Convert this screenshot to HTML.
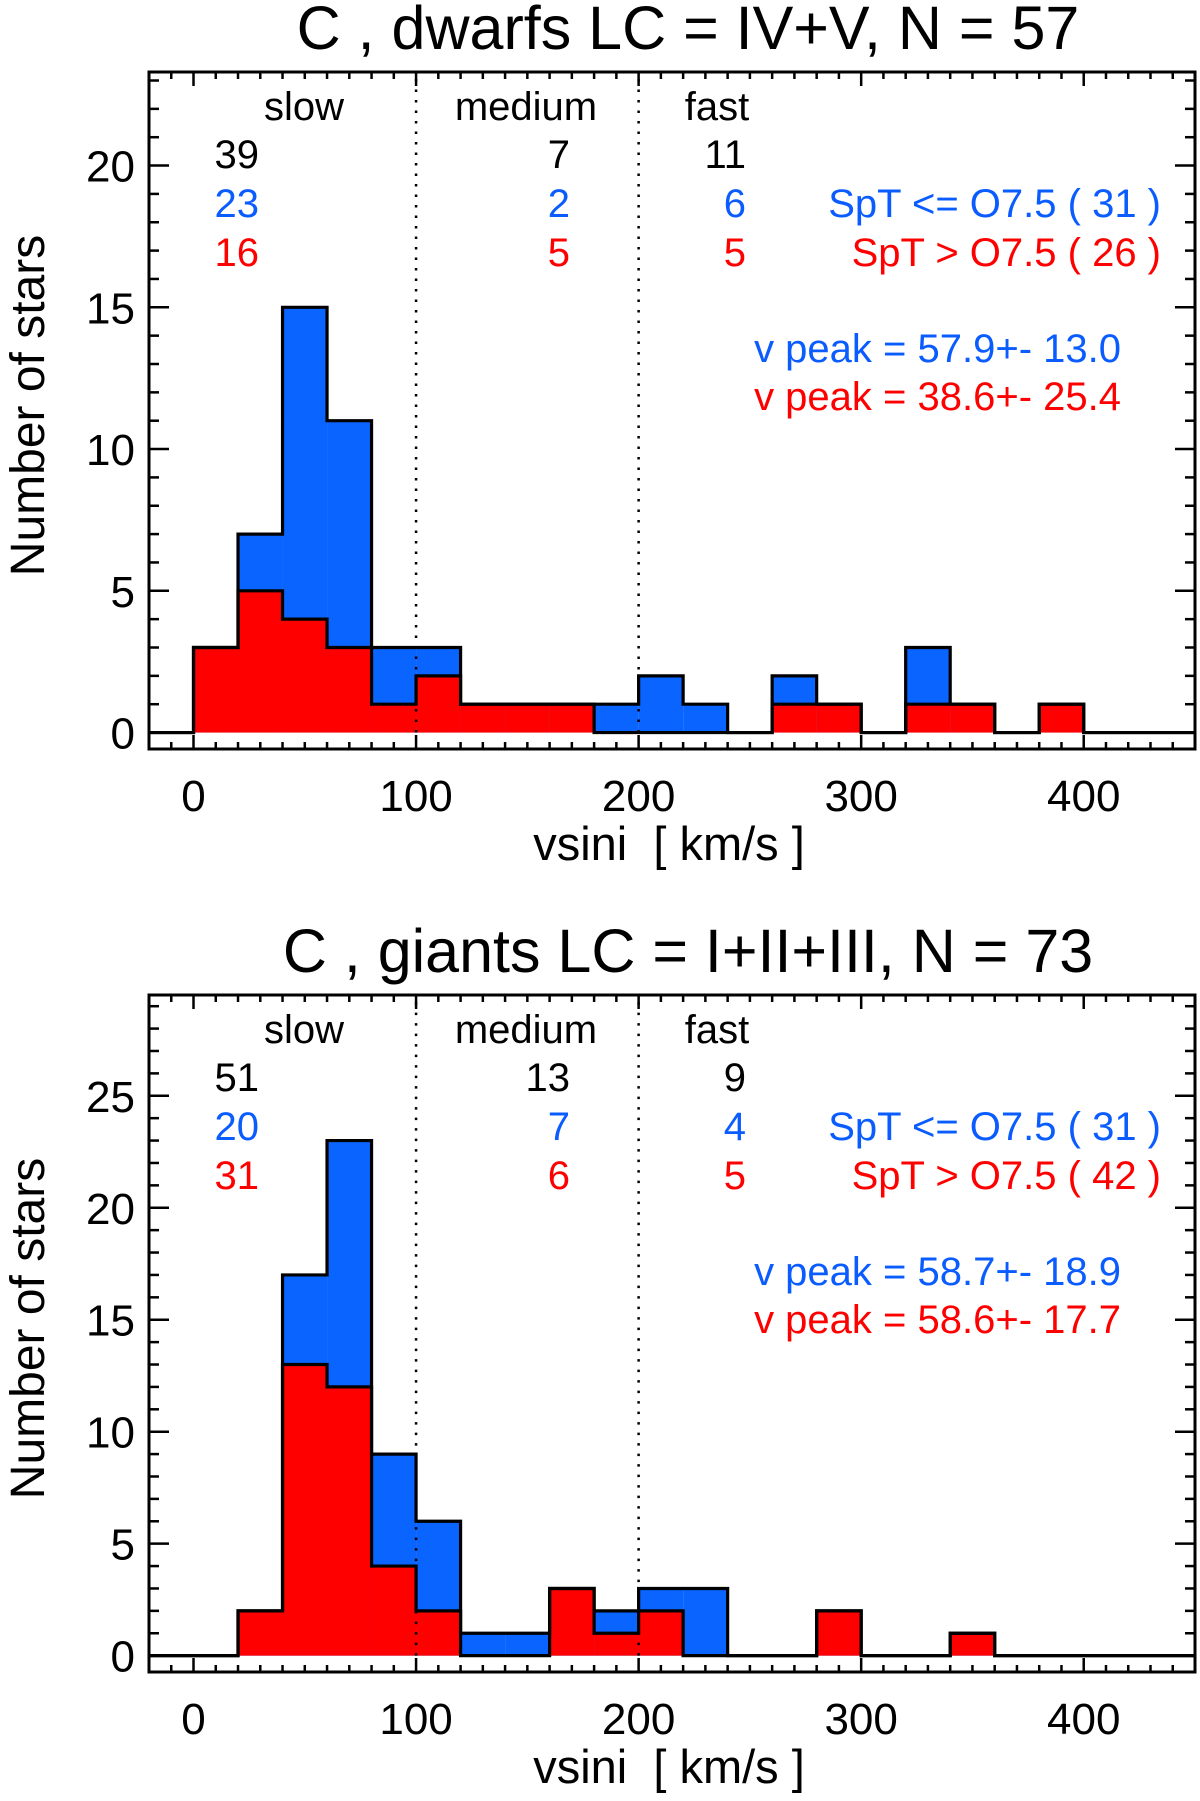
<!DOCTYPE html>
<html><head><meta charset="utf-8"><style>
html,body{margin:0;padding:0;background:#fff;}
svg{display:block;font-family:"Liberation Sans",Arial,sans-serif;}
</style></head><body>
<svg id="fig" width="1200" height="1801" viewBox="0 0 1200 1801" xmlns="http://www.w3.org/2000/svg"></svg>
<script>
// ---- data ----
const binEdgesStart = 0;
const binWidth = 20;
const dwarfTotal = [3,7,15,11,3,3,1,1,1,1,2,1,0,2,1,0,3,1,0,1];
const dwarfRed   = [3,5,4,3,1,2,1,1,1,0,0,0,0,1,1,0,1,1,0,1];
const giantTotal = [0,2,17,23,9,6,1,1,3,2,3,3,0,0,2,0,0,1];
const giantRed   = [0,2,13,12,4,2,0,0,3,1,2,0,0,0,2,0,0,1];
const xTicks = [0,100,200,300,400];
const dwarfYTicks = [0,5,10,15,20];
const giantYTicks = [0,5,10,15,20,25];
const dwarfCounts = {black:["39","7","11"], blue:["23","2","6"], red:["16","5","5"]};
const giantCounts = {black:["51","13","9"], blue:["20","7","4"], red:["31","6","5"]};
const dwarfLegend = ["SpT <= O7.5 ( 31 )","SpT > O7.5 ( 26 )"];
const giantLegend = ["SpT <= O7.5 ( 31 )","SpT > O7.5 ( 42 )"];
const dwarfPeaks = ["v peak = 57.9+- 13.0","v peak = 38.6+- 25.4"];
const giantPeaks = ["v peak = 58.7+- 18.9","v peak = 58.6+- 17.7"];

const NS="http://www.w3.org/2000/svg";
const svg=document.getElementById('fig');
const BLUE="#0a64ff", RED="#ff0000", TBLUE="#0a5cff";
function el(tag,attrs,parent){const e=document.createElementNS(NS,tag);for(const k in attrs)e.setAttribute(k,attrs[k]);(parent||svg).appendChild(e);return e;}
function txt(s,x,y,size,anchor,fill,parent){const t=el('text',{x:x,y:y,'font-size':size,'text-anchor':anchor,fill:fill},parent);t.textContent=s;return t;}

function panel(p){
  const g=el('g',{});
  
  
  const L=149,R=1195,T=p.top,B=p.bottom;
  const xmin=-20,xmax=450;
  const X=v=>L+(v-xmin)/(xmax-xmin)*(R-L);
  const Y=v=>B-(v-p.ymin)/(p.ymax-p.ymin)*(B-T);
  function stepPath(arr){
    let d="M"+X(xmin)+","+Y(0)+" L"+X(binEdgesStart)+","+Y(0);
    arr.forEach((v,i)=>{const x0=X(binEdgesStart+i*binWidth),x1=X(binEdgesStart+(i+1)*binWidth);d+=" L"+x0+","+Y(v)+" L"+x1+","+Y(v);});
    d+=" L"+X(binEdgesStart+arr.length*binWidth)+","+Y(0)+" L"+X(xmax)+","+Y(0);
    return d;
  }
  function fillBars(arr,color,nm){
    arr.forEach((v,i)=>{ if(v<=0)return;
      const r=el('rect',{x:X(binEdgesStart+i*binWidth),y:Y(v),width:X(binWidth)-X(0),height:Y(0)-Y(v),fill:color},g);
      
      
    });
  }
  fillBars(p.total,BLUE,'total');
  fillBars(p.red,RED,'red');
  const o1=el('path',{d:stepPath(p.total),fill:'none',stroke:'#000','stroke-width':3.2},g);
  
  
  const o2=el('path',{d:stepPath(p.red),fill:'none',stroke:'#000','stroke-width':3.2},g);
  
  
  [100,200].forEach(v=>{
    const ln=el('line',{x1:X(v),x2:X(v),y1:Y(0),y2:T,stroke:'#000','stroke-width':2.5,'stroke-dasharray':'2.5 8'},g);
    
    
  });
  const fr=el('rect',{x:L,y:T,width:R-L,height:B-T,fill:'none',stroke:'#000','stroke-width':3},g);
  
  
  for(let v=-20;v<=450;v+=10){
    const major=(v%100===0);const len=major?14:7;
    el('line',{x1:X(v),x2:X(v),y1:B,y2:B-len,stroke:'#000','stroke-width':2.5},g);
    el('line',{x1:X(v),x2:X(v),y1:T,y2:T+len,stroke:'#000','stroke-width':2.5},g);
  }
  xTicks.forEach(v=>{const t=txt(String(v),X(v),p.xlabY,44,'middle','#000',g);
    });
  for(let v=0;v<=Math.floor(p.ymax);v++){
    const major=(v%5===0);const len=major?20:10;
    el('line',{x1:L,x2:L+len,y1:Y(v),y2:Y(v),stroke:'#000','stroke-width':2.5},g);
    el('line',{x1:R,x2:R-len,y1:Y(v),y2:Y(v),stroke:'#000','stroke-width':2.5},g);
  }
  p.yTicks.forEach(v=>{const t=txt(String(v),135,Y(v)+16,44,'end','#000',g);
    });
  const tt=txt(p.title,688,T-23,61,'middle','#000',g);
  
  const xt=txt("vsini  [ km/s ]",669,p.xtitleY,47,'middle','#000',g);
  
  xt.setAttribute('xml:space','preserve');xt.style.whiteSpace='pre';
  const yc=(T+B)/2-5;
  const yt=txt("Number of stars",44,yc,48,'middle','#000',g);
  yt.setAttribute('transform','rotate(-90 44 '+yc+')');
  
  const o=T;
  [["slow",304],["medium",526],["fast",717]].forEach(a=>{const t=txt(a[0],a[1],o+48,40,'middle','#000',g);
    });
  const cx=[259,570,746];
  [["black","#000",96],["blue",TBLUE,145],["red",RED,194]].forEach(r=>{
    p.counts[r[0]].forEach((s,i)=>{const t=txt(s,cx[i],o+r[2],40,'end',r[1],g);
      });
  });
  const l1=txt(p.legend[0],1161,o+145,40,'end',TBLUE,g);
  
  const l2=txt(p.legend[1],1161,o+194,40,'end',RED,g);
  
  const p1=txt(p.peaks[0],1121,o+290,40,'end',TBLUE,g);
  
  const p2=txt(p.peaks[1],1121,o+338,40,'end',RED,g);
  
}
panel({name:'dwarfs-panel',top:72,bottom:749,ymin:-0.58,ymax:23.3,total:dwarfTotal,red:dwarfRed,yTicks:dwarfYTicks,
  title:"C , dwarfs LC = IV+V, N = 57",xlabY:811,xtitleY:860,counts:dwarfCounts,legend:dwarfLegend,peaks:dwarfPeaks});
panel({name:'giants-panel',top:995,bottom:1672,ymin:-0.73,ymax:29.5,total:giantTotal,red:giantRed,yTicks:giantYTicks,
  title:"C , giants LC = I+II+III, N = 73",xlabY:1734,xtitleY:1783,counts:giantCounts,legend:giantLegend,peaks:giantPeaks});
</script>
</body></html>
